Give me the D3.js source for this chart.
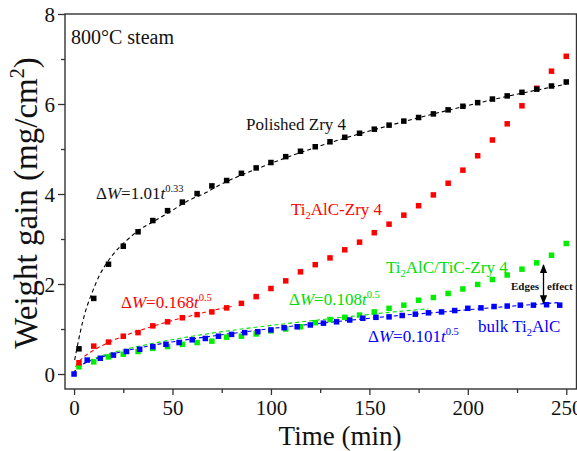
<!DOCTYPE html>
<html><head><meta charset="utf-8">
<script src="https://cdn.jsdelivr.net/npm/d3@7"></script>
<style>body{margin:0;background:#fff}svg{display:block}text{font-family:"Liberation Serif","Times New Roman",serif}</style>
</head><body><svg id="c" width="577" height="451"></svg>
<script>
// time grids (min)
const tA = [2.5,10,17.5,25,32.5,40,47.5,55,62.5,70,77.5,85,92.5,100,107.5,115,122.5,130,137.5,145,152.5,160,167.5,175,182.5,190,197.5,205,212.5,220,227.5,235,242.5,250];
const polishedZry = [0.56,1.68,2.44,2.84,3.16,3.41,3.63,3.82,4.01,4.18,4.30,4.46,4.58,4.70,4.83,4.95,5.05,5.16,5.26,5.35,5.44,5.53,5.62,5.70,5.78,5.87,5.95,6.03,6.11,6.18,6.26,6.33,6.40,6.49];
const ti2alcZry = [0.25,0.62,0.71,0.84,0.92,1.07,1.16,1.25,1.32,1.38,1.47,1.57,1.72,1.90,2.07,2.27,2.43,2.58,2.76,2.93,3.14,3.33,3.53,3.74,3.98,4.24,4.53,4.85,5.20,5.56,5.96,6.35,6.73,7.06];
const ticZry = [0.16,0.27,0.38,0.44,0.50,0.57,0.61,0.66,0.70,0.73,0.82,0.84,0.89,0.96,1.00,1.05,1.14,1.21,1.26,1.31,1.38,1.46,1.53,1.64,1.70,1.79,1.89,1.99,2.10,2.20,2.33,2.47,2.64,2.90];
const tB = [0,6.67,13.33,20,26.67,33.33,40,46.67,53.33,60,66.67,73.33,80,86.67,93.33,100,106.67,113.33,120,126.67,133.33,140,146.67,153.33,160,166.67,173.33,180,186.67,193.33,200,206.67,213.33,220,226.67,233.33,240,246.67];
const bulkTi2alc = [0,0.31,0.35,0.42,0.50,0.55,0.61,0.66,0.70,0.76,0.79,0.84,0.88,0.92,0.94,0.98,1.03,1.05,1.09,1.13,1.16,1.20,1.24,1.26,1.27,1.30,1.33,1.36,1.38,1.41,1.46,1.47,1.50,1.51,1.53,1.53,1.54,1.53];

// fitted curves
const fitBlackT = [0.3,3,5.5,9,13,16.5,21,27,33,40,49,57,66,74,100,130,160,190,220,250];
const fitBlackW = [0.31,0.90,1.35,1.79,2.20,2.46,2.72,2.98,3.20,3.38,3.61,3.83,4.01,4.20,4.68,5.14,5.52,5.86,6.17,6.44];
const fitRedT = [0,1,2,5,10,20,30,40,50,60,70,80];
const fitRedW = [0,0.17,0.24,0.38,0.53,0.75,0.92,1.06,1.19,1.30,1.41,1.50];
const fitGreenT = [0,1,2,5,10,20,40,60,80,100,130,160,180];
const fitGreenW = [0,0.11,0.15,0.24,0.34,0.48,0.68,0.84,0.97,1.08,1.23,1.37,1.45];
const fitBlueT = [0,1,2,5,10,20,40,60,80,100,130,160,190,220,247];
const fitBlueW = [0,0.10,0.14,0.23,0.32,0.45,0.64,0.78,0.90,1.01,1.15,1.28,1.39,1.50,1.59];

const xTicks = [0,50,100,150,200,250];
const yTicks = [0,2,4,6,8];

const svg = d3.select("#c");
const x = d3.scaleLinear().domain([-4.6,255.2]).range([65,576.5]);
const y = d3.scaleLinear().domain([-0.333,8]).range([389,14]);

const g = svg.append("g");
// fits
const line = d3.line().x(d=>x(d[0])).y(d=>y(d[1])).curve(d3.curveMonotoneX);
function fit(T,W,col){
  g.append("path").attr("d",line(T.map((t,i)=>[t,W[i]]))).attr("fill","none")
   .attr("stroke",col).attr("stroke-width",1.1).attr("stroke-dasharray","4,3");
}
fit(fitBlackT,fitBlackW,"#000");
fit(fitRedT,fitRedW,"#ff0000");
fit(fitGreenT,fitGreenW,"#00e000");
fit(fitBlueT,fitBlueW,"#0000ff");

const s = 5.5;
function pts(T,W,col){
  g.selectAll(null).data(T.map((t,i)=>[t,W[i]])).enter().append("rect")
   .attr("x",d=>x(d[0])-s/2).attr("y",d=>y(d[1])-s/2).attr("width",s).attr("height",s).attr("fill",col);
}
pts(tA,ticZry,"#00ee00");
pts(tB,bulkTi2alc,"#0000ff");
pts(tA,ti2alcZry,"#ff0000");
pts(tA,polishedZry,"#000");

// frame
svg.append("rect").attr("x",65).attr("y",14).attr("width",511.5).attr("height",375)
  .attr("fill","none").attr("stroke","#333").attr("stroke-width",1.4);

// axes
const xa = svg.append("g").attr("transform","translate(0,389)");
xa.call(d3.axisBottom(x).tickValues(xTicks).tickSize(6).tickFormat(d3.format("d")));
const xm = svg.append("g").attr("transform","translate(0,389)");
xm.call(d3.axisBottom(x).tickValues([25,75,125,175,225]).tickSize(4).tickFormat(""));
const ya = svg.append("g").attr("transform","translate(65,0)");
ya.call(d3.axisLeft(y).tickValues(yTicks).tickSize(7).tickFormat(d3.format("d")));
const ym = svg.append("g").attr("transform","translate(65,0)");
ym.call(d3.axisLeft(y).tickValues([1,3,5,7]).tickSize(4).tickFormat(""));
svg.selectAll(".domain").remove();
svg.selectAll(".tick line").attr("stroke","#333").attr("stroke-width",1.3);
xa.selectAll("text").attr("font-size",21).attr("fill","#111").attr("dy","0.95em").attr("y",6);
ya.selectAll("text").attr("font-size",21).attr("fill","#111").attr("x",-10).attr("dy","0.34em");

// titles
svg.append("text").attr("x",340).attr("y",445).attr("text-anchor","middle").attr("font-size",27).attr("fill","#111").text("Time (min)");
const yt = svg.append("text").attr("transform","translate(37,203) rotate(-90)").attr("text-anchor","middle").attr("font-size",33).attr("fill","#111");
yt.append("tspan").text("Weight gain (mg/cm");
yt.append("tspan").attr("font-size",20).attr("dy",-13).text("2");
yt.append("tspan").attr("dy",13).text(")");

svg.append("text").attr("x",71).attr("y",44).attr("font-size",20).attr("fill","#111").text("800°C steam");

function label(xp,yp,parts,col,fs){
  const t = svg.append("text").attr("x",xp).attr("y",yp).attr("font-size",fs).attr("fill",col);
  parts.forEach(p=>{
    const ts = t.append("tspan").text(p.t);
    if(p.i) ts.attr("font-style","italic");
    if(p.sup) ts.attr("font-size",fs*0.62).attr("dy",-fs*0.42);
    if(p.sub) ts.attr("font-size",fs*0.62).attr("dy",fs*0.25);
    if(p.back) ts.attr("dy",p.back);
  });
  return t;
}
label(246,130,[{t:"Polished Zry 4"}],"#111",17);
label(96,199,[{t:"Δ"},{t:"W",i:1},{t:"=1.01"},{t:"t",i:1},{t:"0.33",sup:1}],"#111",17);
label(291,215,[{t:"Ti"},{t:"2",sub:1},{t:"AlC-Zry 4",back:-17*0.25}],"#ff0000",17);
label(121,308,[{t:"Δ"},{t:"W",i:1},{t:"=0.168"},{t:"t",i:1},{t:"0.5",sup:1}],"#ff0000",17);
label(386,273,[{t:"Ti"},{t:"2",sub:1},{t:"AlC/TiC-Zry 4",back:-17*0.25}],"#00dd00",17);
label(289,305,[{t:"Δ"},{t:"W",i:1},{t:"=0.108"},{t:"t",i:1},{t:"0.5",sup:1}],"#00dd00",17);
label(368,342,[{t:"Δ"},{t:"W",i:1},{t:"=0.101"},{t:"t",i:1},{t:"0.5",sup:1}],"#0000ff",17);
label(478,332,[{t:"bulk Ti"},{t:"2",sub:1},{t:"AlC",back:-17*0.25}],"#0000ff",17);

svg.append("text").attr("x",511).attr("y",290).attr("font-size",11).attr("font-weight","bold").attr("fill","#111").text("Edges");
svg.append("text").attr("x",547).attr("y",290).attr("font-size",11).attr("font-weight","bold").attr("fill","#111").text("effect");
const defs = svg.append("defs");
defs.append("marker").attr("id","ah").attr("viewBox","0 0 10 10").attr("refX",9).attr("refY",5)
  .attr("markerWidth",7).attr("markerHeight",7).attr("orient","auto-start-reverse")
  .append("path").attr("d","M0,1 L10,5 L0,9 Z").attr("fill","#000");
svg.append("line").attr("x1",543.5).attr("x2",543.5).attr("y1",265).attr("y2",303.5)
  .attr("stroke","#000").attr("stroke-width",1.3).attr("marker-start","url(#ah)").attr("marker-end","url(#ah)");
</script></body></html>
